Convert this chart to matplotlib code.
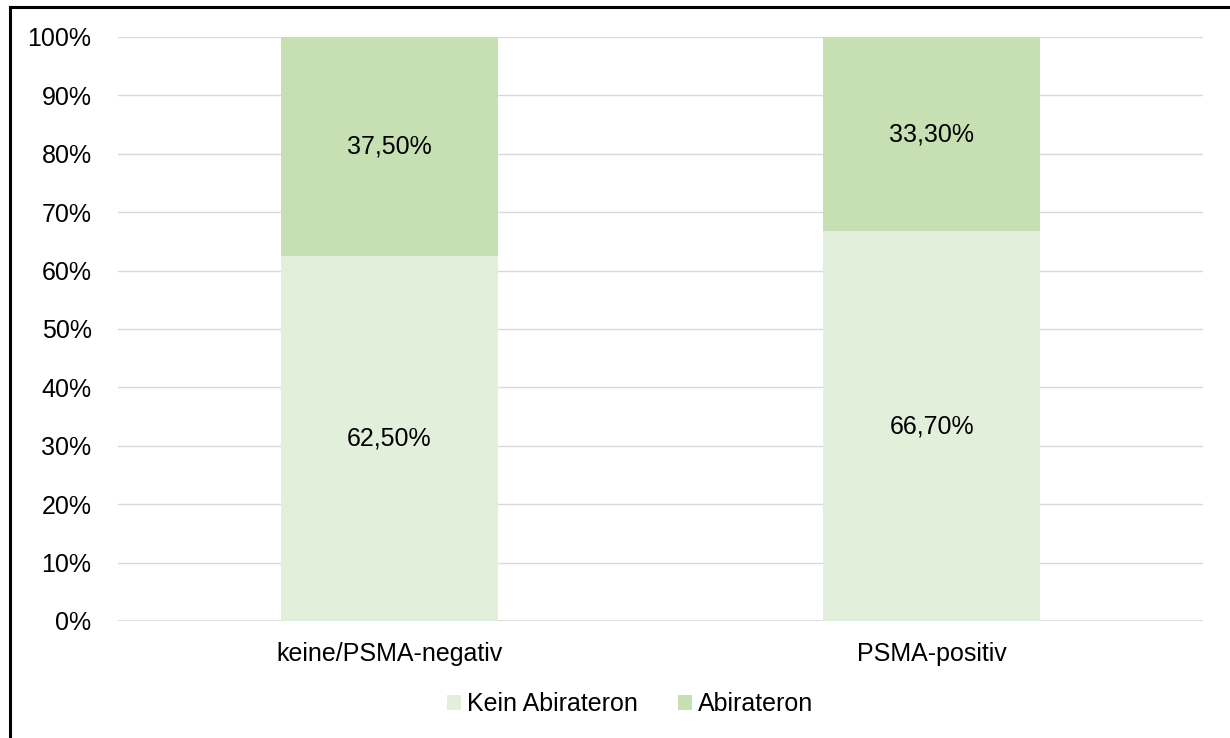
import matplotlib
matplotlib.use("Agg")
import matplotlib.pyplot as plt
from matplotlib.lines import Line2D
import numpy as np

categories = ["keine/PSMA-negativ", "PSMA-positiv"]
kein_abirateron = [62.5, 66.7]
abirateron = [37.5, 33.3]
series_names = ["Kein Abirateron", "Abirateron"]
kein_labels = ["62,50%", "66,70%"]
abi_labels = ["37,50%", "33,30%"]
yticks = list(range(0, 101, 10))

plt.rcParams['font.family'] = ['Liberation Sans', 'DejaVu Sans']
FS = 18

fig = plt.figure(figsize=(12.3, 7.38), dpi=100)
ax = fig.add_axes([118/1230, 1 - 621/738, (1203-118)/1230, (621-37)/738])

c1 = "#E2EFDA"
c2 = "#C6E0B4"
x = np.arange(len(categories))
b1 = ax.bar(x, kein_abirateron, width=0.4, color=c1, label=series_names[0], zorder=2)
b2 = ax.bar(x, abirateron, width=0.4, bottom=kein_abirateron, color=c2, label=series_names[1], zorder=2)

for i in range(len(categories)):
    ax.text(x[i], kein_abirateron[i]/2, kein_labels[i], ha='center', va='center', fontsize=FS, color='#000000', zorder=3)
    ax.text(x[i], kein_abirateron[i] + abirateron[i]/2, abi_labels[i], ha='center', va='center', fontsize=FS, color='#000000', zorder=3)

ax.set_xlim(-0.5, 1.5)
ax.set_ylim(0, 100)
ax.set_yticks(yticks)
ax.set_yticklabels([f"{v}%" for v in yticks], fontsize=FS)
ax.set_xticks(x)
ax.set_xticklabels(categories, fontsize=FS)
ax.tick_params(axis='both', length=0, colors='#000000')
ax.tick_params(axis='y', pad=19)
ax.tick_params(axis='x', pad=15)
ax.grid(axis='y', color='#D9D9D9', linewidth=1, zorder=0)
for s in ax.spines.values():
    s.set_visible(False)
ax.axhline(0, color='#D9D9D9', linewidth=1.2, zorder=1)

leg = fig.legend(handles=[b1, b2], labels=series_names, loc='center', bbox_to_anchor=(630/1230, 1 - 704/738),
                 ncol=2, frameon=False, fontsize=FS, handlelength=0.55, handleheight=0.55,
                 handletextpad=0.25, columnspacing=1.6)

# outer frame (left and top visible)
fig.add_artist(Line2D([10/1230, 10/1230], [0, 1 - 7/738], transform=fig.transFigure, color='black', linewidth=2.2))
fig.add_artist(Line2D([10/1230, 1], [1 - 7/738, 1 - 7/738], transform=fig.transFigure, color='black', linewidth=2.2))

fig.savefig("out.png", dpi=100)
